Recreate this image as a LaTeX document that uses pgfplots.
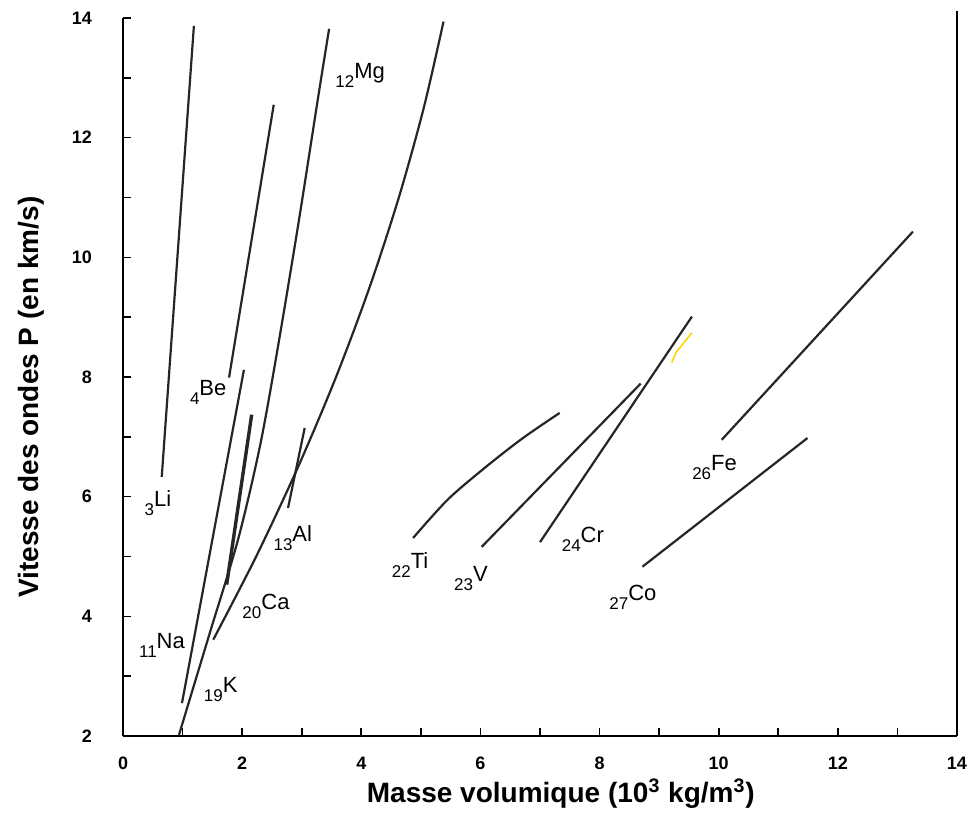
\documentclass[border=0pt]{standalone}
\usepackage{fontspec}
\setmainfont{Liberation Sans}
\usepackage{pgfplots}
\pgfplotsset{compat=1.18}
\pgfplotsset{elline/.style={black!85, solid, line width=1.1pt, mark=none}}
\newcommand{\el}[2]{{\fontsize{8.5}{9}\selectfont #1}\raisebox{4.5pt}{\fontsize{11}{12}\selectfont #2}}
\begin{document}
\begin{tikzpicture}
\begin{axis}[
 scale only axis, width=417pt, height=359pt,
 xmin=0, xmax=14, ymin=2, ymax=14,
 axis x line*=bottom, axis y line*=left,
 axis line style={-, line width=1.4pt, black},
 xtick={0,2,...,14}, ytick={2,4,...,14},
 minor xtick={1,3,...,13}, minor ytick={3,5,...,13},
 tick align=inside,
 major tick length=4pt, minor tick length=4pt,
 tick style={black, line width=0.8pt},
 /pgf/number format/assume math mode=true,
 ticklabel style={font=\fontsize{9}{9}\selectfont\bfseries},
 xticklabel style={yshift=-7pt},
 yticklabel style={xshift=-12pt},
 xlabel={Masse volumique (10\textsuperscript{3} kg/m\textsuperscript{3})},
 ylabel={Vitesse des ondes P (en km/s)},
 label style={font=\fontsize{14}{16}\selectfont\bfseries},
 xlabel style={at={(axis description cs:0.525,-0.080)}, anchor=center},
 ylabel style={at={(axis description cs:-0.110,0.472)}, anchor=center},
 clip=false,
]
% Li
\addplot[elline] coordinates {(0.65,6.33) (1.19,13.87)};
% Be
\addplot[elline] coordinates {(1.78,7.99) (2.53,12.55)};
% Na
\addplot[elline] coordinates {(0.99,2.55) (2.03,8.12)};
% short thick line
\addplot[elline, line width=1.7pt] coordinates {(1.74,4.53) (2.16,7.37)};
% K / Mg long line
\addplot[elline, smooth] coordinates {(0.94,2.02) (1.45,3.70) (1.93,5.28) (2.30,6.85) (2.60,8.50) (2.95,10.60) (3.27,12.64) (3.46,13.82)};
% Ca curve
\addplot[elline, smooth] coordinates {(1.515,3.61) (2.235,5.0) (2.94,6.5) (3.576,8.0) (4.139,9.5) (4.63,11.0) (5.049,12.5) (5.38,13.94)};
% Al
\addplot[elline] coordinates {(2.77,5.81) (3.05,7.15)};
% Ti
\addplot[elline, smooth] coordinates {(4.87,5.31) (5.45,5.95) (6.07,6.48) (6.70,6.97) (7.33,7.40)};
% V
\addplot[elline] coordinates {(6.02,5.16) (8.69,7.89)};
% Cr
\addplot[elline] coordinates {(7.00,5.24) (9.55,9.01)};
% Fe
\addplot[elline] coordinates {(10.05,6.95) (13.26,10.43)};
% Co
\addplot[elline] coordinates {(8.72,4.83) (11.49,6.98)};
% yellow scribble
\addplot[yellow!75!orange, line width=0.8pt] coordinates {(9.21,8.24) (9.29,8.42) (9.55,8.74)};
% labels
\node at (axis cs:0.587,5.90) {\el{3}{Li}};
\node at (axis cs:1.43,7.74) {\el{4}{Be}};
\node at (axis cs:3.98,13.04) {\el{12}{Mg}};
\node at (axis cs:2.85,5.31) {\el{13}{Al}};
\node at (axis cs:2.40,4.17) {\el{20}{Ca}};
\node at (axis cs:0.654,3.51) {\el{11}{Na}};
\node at (axis cs:1.64,2.77) {\el{19}{K}};
\node at (axis cs:4.82,4.86) {\el{22}{Ti}};
\node at (axis cs:5.84,4.64) {\el{23}{V}};
\node at (axis cs:7.72,5.28) {\el{24}{Cr}};
\node at (axis cs:9.93,6.48) {\el{26}{Fe}};
\node at (axis cs:8.56,4.32) {\el{27}{Co}};
\draw[line width=1.1pt, black] (rel axis cs:1,0) -- (rel axis cs:1,1.01);
\coordinate (bbsw) at (rel axis cs:-0.1475,-0.1114);
\coordinate (bbne) at (rel axis cs:1.0168,1.0251);
\end{axis}
\pgfresetboundingbox
\path[use as bounding box] (bbsw) rectangle (bbne);
\end{tikzpicture}
\end{document}
